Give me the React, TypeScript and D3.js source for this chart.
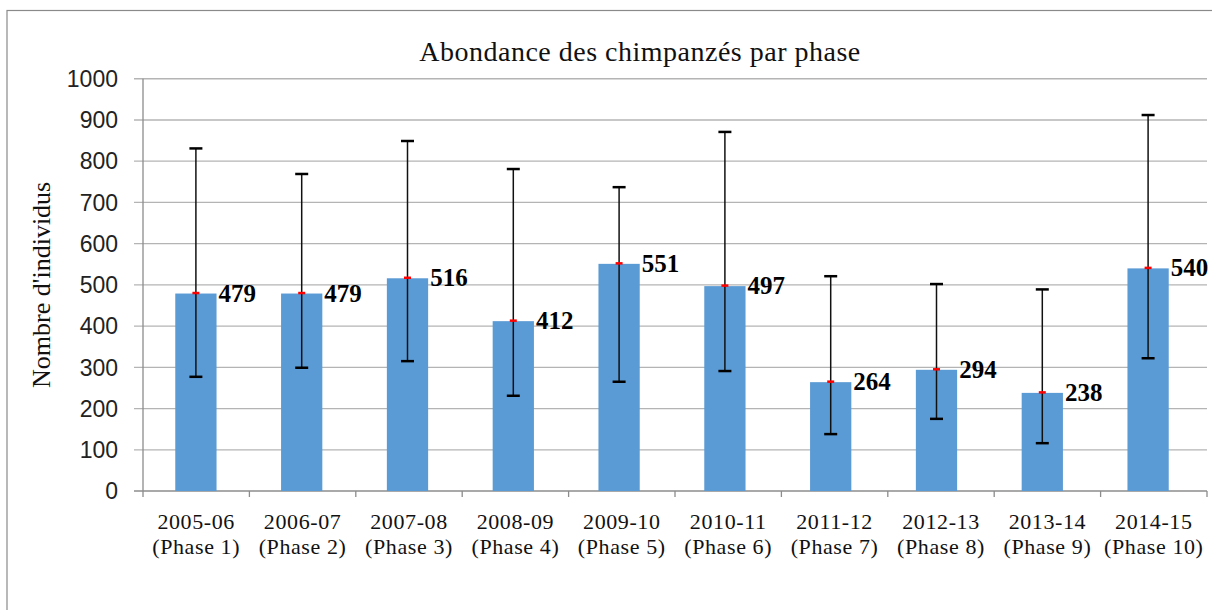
import React from "react";
import * as d3 from "d3";

const years = ["2005-06", "2006-07", "2007-08", "2008-09", "2009-10", "2010-11", "2011-12", "2012-13", "2013-14", "2014-15"];
const phases = ["(Phase 1)", "(Phase 2)", "(Phase 3)", "(Phase 4)", "(Phase 5)", "(Phase 6)", "(Phase 7)", "(Phase 8)", "(Phase 9)", "(Phase 10)"];
const values = [479, 479, 516, 412, 551, 497, 264, 294, 238, 540];
const upper = [831, 769, 849, 781, 737, 871, 521, 502, 489, 912];
const lower = [277, 299, 315, 231, 265, 291, 138, 175, 116, 322];
const yTicks = [0, 100, 200, 300, 400, 500, 600, 700, 800, 900, 1000];
const title = "Abondance des chimpanzés par phase";
const yTitle = "Nombre d'individus";

const W = 1212;
const H = 610;
const left = 143;
const right = 1207;
const top = 78.75;
const bottom = 491;

export default function App() {
  const x = d3.scaleBand<string>().domain(years).range([left, right]).padding(0);
  const xb = d3.scaleBand<string>().domain(years).range([left, right - 6]).padding(0);
  const y = d3.scaleLinear().domain([0, 1000]).range([bottom, top]);
  const bw = xb.bandwidth() * 0.39;
  const serif = "'Liberation Serif', 'Times New Roman', serif";
  const sans = "'Liberation Sans', Arial, sans-serif";
  const bc = (c: string) => (xb(c) as number) + xb.bandwidth() / 2;

  return (
    <svg width={W} height={H} style={{ position: "absolute", left: 0, top: 0, background: "#fff" }}>
      <rect x={0} y={0} width={W} height={H} fill="#fff" />
      <rect x={7} y={10.5} width={W + 20} height={H + 20} fill="none" stroke="#8a8a8a" strokeWidth={1.2} />
      <text x={640} y={61} textAnchor="middle" fontFamily={serif} fontSize={28} letterSpacing={0.5} fill="#111">
        {title}
      </text>
      {/* gridlines and y ticks */}
      {yTicks.map((t) => (
        <g key={t}>
          <line x1={134} x2={right} y1={y(t)} y2={y(t)} stroke={t === 0 ? "#8c8c8c" : "#b4b4b4"} strokeWidth={1.3} />
          <text x={118} y={y(t)} dy="0.36em" textAnchor="end" fontFamily={sans} fontSize={23} fill="#222">
            {t}
          </text>
        </g>
      ))}
      {/* y axis */}
      <line x1={left} x2={left} y1={top} y2={bottom + 6} stroke="#8c8c8c" strokeWidth={1.3} />
      {/* x ticks */}
      {years.map((c) => (
        <line key={c} x1={(x(c) as number) + x.bandwidth()} x2={(x(c) as number) + x.bandwidth()} y1={bottom} y2={bottom + 6} stroke="#8c8c8c" strokeWidth={1.3} />
      ))}
      {/* bars */}
      {years.map((c, i) => (
        <rect key={c} x={bc(c) - bw / 2} y={y(values[i])} width={bw} height={bottom - y(values[i])} fill="#5b9bd5" />
      ))}
      {/* error bars */}
      {years.map((c, i) => {
        const cx = bc(c);
        return (
          <g key={c}>
            <line x1={cx} x2={cx} y1={y(upper[i])} y2={y(lower[i])} stroke="#111" strokeWidth={1.5} />
            <line x1={cx - 6.5} x2={cx + 6.5} y1={y(upper[i])} y2={y(upper[i])} stroke="#000" strokeWidth={2.5} />
            <line x1={cx - 6.5} x2={cx + 6.5} y1={y(lower[i])} y2={y(lower[i])} stroke="#000" strokeWidth={2.5} />
            <line x1={cx - 3.5} x2={cx + 3.5} y1={y(values[i]) - 0.5} y2={y(values[i]) - 0.5} stroke="#ff0000" strokeWidth={2.5} />
          </g>
        );
      })}
      {/* data labels */}
      {years.map((c, i) => (
        <text key={c} x={bc(c) + bw / 2 + 2} y={y(values[i]) + 8} fontFamily={serif} fontWeight="bold" fontSize={25} fill="#000">
          {values[i]}
        </text>
      ))}
      {/* category labels */}
      {years.map((c, i) => {
        const cx = (x(c) as number) + x.bandwidth() / 2;
        return (
          <g key={c}>
            <text x={cx} y={528.5} textAnchor="middle" fontFamily={serif} fontSize={22} letterSpacing={0.6} fill="#111">
              {c}
            </text>
            <text x={cx} y={553.5} textAnchor="middle" fontFamily={serif} fontSize={22} letterSpacing={0.6} fill="#111">
              {phases[i]}
            </text>
          </g>
        );
      })}
      <text transform={`translate(50,${(top + bottom) / 2}) rotate(-90)`} textAnchor="middle" fontFamily={serif} fontSize={26} fill="#111">
        {yTitle}
      </text>
    </svg>
  );
}
